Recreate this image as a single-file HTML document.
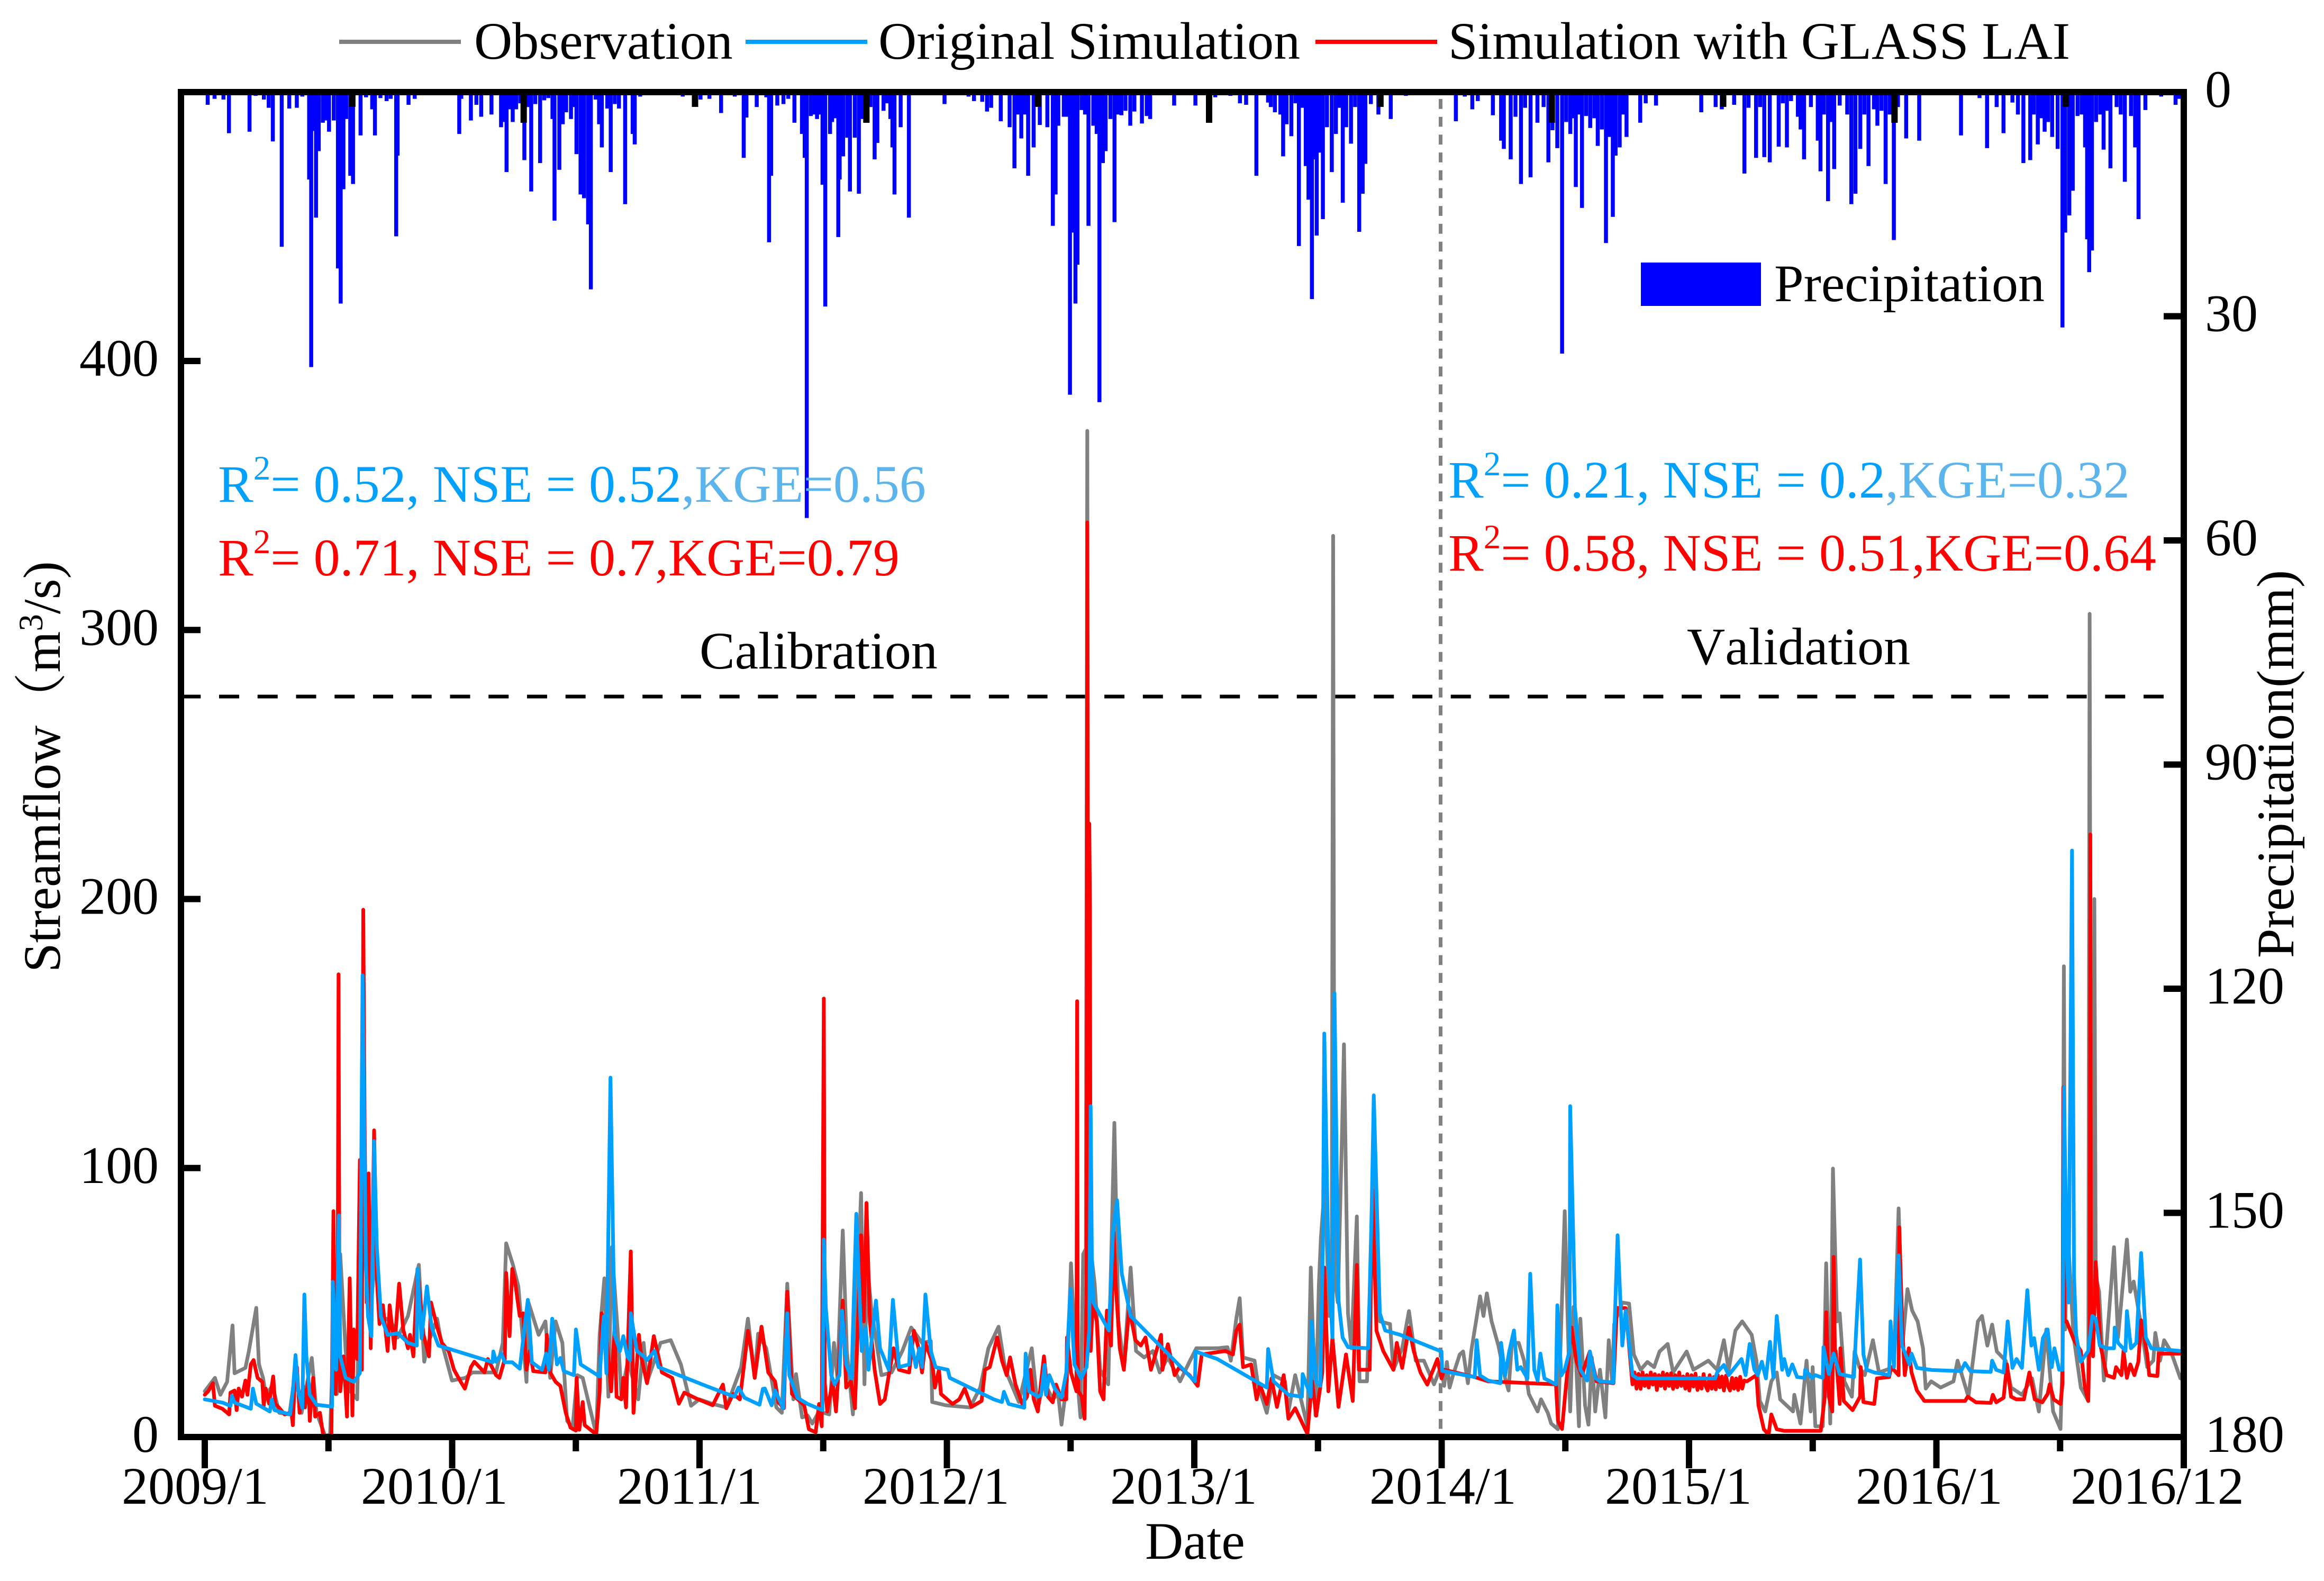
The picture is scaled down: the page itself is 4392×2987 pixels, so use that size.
<!DOCTYPE html>
<html lang="en">
<head>
<meta charset="utf-8">
<title>Streamflow simulation chart</title>
<style>
html,body{margin:0;padding:0;background:#fff}
svg{display:block}
text{font-family:"Liberation Serif","Noto Serif CJK SC",serif;font-size:100px;fill:#000}
</style>
</head>
<body>
<svg id="chart" xmlns="http://www.w3.org/2000/svg" width="4392" height="2987" viewBox="0 0 4392 2987">
<rect x="0" y="0" width="4392" height="2987" fill="#fff"/>
<g id="precip-bars"></g>
<line x1="341.3" y1="1316" x2="4122" y2="1316" stroke="#000" stroke-width="7" stroke-dasharray="38 34.74"/>
<line x1="2722.5" y1="174" x2="2722.5" y2="2712" stroke="#808080" stroke-width="7" stroke-dasharray="18.7 15" stroke-dashoffset="-13"/>
<g id="series"></g>
<g id="ticks"></g>
<rect x="342" y="174" width="3785" height="2541" fill="none" stroke="#000" stroke-width="12"/>
<g id="tick-labels"></g>
<g>
<text x="230" y="2841">2009/1</text>
<text x="682" y="2841">2010/1</text>
<text x="1166" y="2841">2011/1</text>
<text x="1630" y="2841">2012/1</text>
<text x="2098" y="2841">2013/1</text>
<text x="2588" y="2841">2014/1</text>
<text x="3033" y="2841">2015/1</text>
<text x="3507" y="2841">2016/1</text>
<text x="3913" y="2841">2016/12</text>
</g>
<text x="2164" y="2945">Date</text>
<text transform="translate(113 1837) rotate(-90)">Streamflow（m<tspan font-size="65" dy="-33" style="font-size:65px">3</tspan><tspan dy="33">/s)</tspan></text>
<text transform="translate(4334 1810) rotate(-90)">Precipitation(mm)</text>
<g>
<line x1="641" y1="79" x2="871" y2="79" stroke="#808080" stroke-width="8"/>
<text x="896" y="111">Observation</text>
<line x1="1409" y1="79" x2="1639" y2="79" stroke="#00a0ff" stroke-width="8"/>
<text x="1660" y="111">Original Simulation</text>
<line x1="2486" y1="79" x2="2716" y2="79" stroke="#ff0000" stroke-width="8"/>
<text x="2737" y="111">Simulation with GLASS LAI</text>
</g>
<g>
<rect x="3101" y="496" width="227" height="82" fill="#0000ff"/>
<text x="3353" y="569">Precipitation</text>
</g>
<text x="412" y="948" style="fill:#00a0ff">R<tspan dy="-42" style="font-size:65px;fill:#00a0ff">2</tspan><tspan dy="42" style="fill:#00a0ff">= 0.52, NSE = 0.52</tspan><tspan style="fill:#5bb5ec">,KGE=0.56</tspan></text>
<text x="412" y="1087" style="fill:#ff0000">R<tspan dy="-42" style="font-size:65px;fill:#ff0000">2</tspan><tspan dy="42" style="fill:#ff0000">= 0.71, NSE = 0.7,KGE=0.79</tspan></text>
<text x="2737" y="940" style="fill:#00a0ff">R<tspan dy="-42" style="font-size:65px;fill:#00a0ff">2</tspan><tspan dy="42" style="fill:#00a0ff">= 0.21, NSE = 0.2</tspan><tspan style="fill:#5bb5ec">,KGE=0.32</tspan></text>
<text x="2737" y="1078" style="fill:#ff0000">R<tspan dy="-42" style="font-size:65px;fill:#ff0000">2</tspan><tspan dy="42" style="fill:#ff0000">= 0.58, NSE = 0.51,KGE=0.64</tspan></text>
<text x="1322" y="1263">Calibration</text>
<text x="3188" y="1255" style="font-kerning:none">Validation</text>
</svg>
<script>
var flowTickValues = [0, 100, 200, 300, 400];
var precipTickValues = [0, 30, 60, 90, 120, 150, 180];
var halfYearTicks = [0, 0.5, 1, 1.5, 2, 2.5, 3, 3.5, 4, 4.5, 5, 5.5, 6, 6.5, 7, 7.5, 8];
var barDayTicks = [0, 250, 500, 750, 1000, 1250, 1500, 1750, 2000, 2250, 2500, 2750];

var precipDays = [39,49,62,70,100,109,121,128,134,147,
158,169,177,187,190,194,197,201,207,212,
216,223,229,233,237,241,247,251,262,270,
279,283,291,300,306,314,316,332,341,406,
409,423,431,438,453,467,472,475,479,484,
489,495,501,506,511,517,524,530,536,542,
545,552,557,562,569,573,577,583,588,594,
598,605,610,614,622,627,633,639,648,659,
662,670,732,758,771,788,808,821,825,840,
854,858,861,870,879,886,895,906,910,913,
919,924,928,932,936,940,947,950,954,959,
961,966,972,976,983,989,994,1000,1006,1012,
1016,1025,1030,1035,1038,1041,1050,1062,1114,1149,
1157,1169,1176,1182,1196,1209,1216,1221,1226,1231,
1236,1244,1253,1264,1272,1276,1280,1288,1293,1297,
1301,1305,1308,1314,1319,1324,1331,1336,1340,1345,
1349,1356,1362,1367,1372,1378,1385,1391,1402,1409,
1414,1449,1480,1509,1531,1545,1554,1569,1586,1590,
1596,1604,1608,1613,1620,1626,1631,1636,1641,1645,
1650,1654,1657,1662,1666,1672,1679,1685,1690,1695,
1700,1707,1713,1719,1724,1728,1736,1747,1765,1787,
1860,1873,1884,1892,1914,1926,1930,1940,1947,1955,
1961,1969,1979,1988,1995,2001,2008,2015,2021,2027,
2031,2035,2039,2044,2050,2056,2062,2067,2073,2079,
2084,2089,2093,2099,2104,2109,2129,2137,2152,2218,
2239,2248,2266,2281,2287,2298,2304,2310,2318,2331,
2337,2343,2349,2359,2363,2368,2378,2388,2392,2397,
2403,2408,2412,2420,2431,2437,2443,2450,2456,2462,
2470,2475,2481,2487,2493,2499,2505,2517,2536,2597,
2624,2635,2649,2659,2672,2680,2688,2698,2703,2709,
2714,2719,2724,2730,2738,2745,2749,2755,2760,2767,
2773,2778,2781,2784,2788,2794,2800,2805,2810,2815,
2824,2830,2836,2845,2851,2856,2866,2889,2910,2915];
var precipMm = [1.7,.9,1,5.5,5.3,.5,1,2.1,6.6,20.7,
2.2,2.1,.6,11.7,36.8,5.2,16.8,7.9,4.1,3.8,
5.3,3.8,23.6,28.3,13,3.6,11.2,12.3,5.8,.7,
2.3,5.8,.8,1.2,.9,19.3,8.5,1.7,.9,5.6,
.9,3.8,1.7,3.3,3,4.7,4,10.7,2.3,4,
2.3,1.5,9.1,2,13.3,1.6,9.5,1.1,.8,3.6,
17.2,10.4,4.3,2.7,3.6,2,8.3,13.7,14.2,17.7,
26.4,1,4.3,7.4,2.2,10.7,1.6,2.2,15,5.6,
7,.6,.6,1,.9,2.8,.6,8.8,3.4,2,
.7,20.1,11.2,1.8,1.6,.9,4.1,5.6,8.8,57,
3.2,3,3.6,3,12.4,28.7,5.6,4,3.5,19.4,
11.7,8.6,6.1,13.3,6.1,13.6,3.6,3,2,9,
6.8,2.5,1.5,3.6,7.4,13.7,4.7,16.8,1.6,.6,
1.2,1.3,2.6,2.1,3.9,4.7,10.2,3,6.2,3,
11.2,7.4,4.4,4.7,17.9,13.7,4.5,3.3,3.3,40.5,
18.8,28.3,23.1,2.4,3,17.9,4.5,5.6,41.5,9.5,
7.9,3.6,17.4,3,3.1,2.5,4.5,2.6,4.2,3.2,
3.6,1.8,1.8,.7,.5,1.5,1.7,11.2,1.4,2,
2.7,3,8.6,4.3,5.9,1.5,20.6,2.1,9.9,14.4,
27.7,9,19.2,8.1,17,4.7,10.7,5.6,2.1,14.8,
4.7,6.9,2,18.7,13.6,9.6,1.6,3,3.6,.5,
3.9,.6,2.3,1.2,3.1,6.5,7.6,9,3.3,12.3,
2.1,11.4,4.1,2,9.4,5.1,7.5,35,4,5.6,
3.5,12.7,3,15.5,3.2,4.8,3.5,7.2,5,20.2,
6,16.7,8.5,7.4,3,6,4.1,1.5,1.8,2.7,
2,2.3,1.7,10.9,2.1,8.8,2,8.7,9.4,7.3,
1.5,7.4,1.2,3.3,5,9,2,6.5,10.6,3,
14.6,4,10.3,1.8,3,15,13.6,7.6,3,9.9,
2.3,4.5,2.5,12.3,3,19.8,2,6.2,6.5,5.8,
.8,7.5,2,5.5,1.4,3,9.5,9.1,3,7,
3.5,5.3,4,6,7.6,31.5,18.8,16.5,13.2,3.2,
3,7.4,19.7,24.1,21.2,4,3,7.7,2.5,10.2,
2,3,12,3.2,7.4,17,2.4,.6,1.7,.9];

var obsDays = [0,15,23,33,41,44,60,65,76,80,86,90,100,110,125,134,143,158,165,178,185,190,195,200,208,215,225,230,234,238,245,253,260,275,285,300,316,324,330,343,348,365,385,395,430,440,445,455,463,475,478,493,503,510,518,528,535,543,550,558,578,583,590,596,601,610,615,625,640,648,653,673,688,703,718,730,750,770,792,802,812,817,829,844,852,860,869,873,882,890,897,907,922,929,934,942,948,957,969,974,978,984,999,1014,1030,1043,1059,1072,1074,1094,1130,1145,1157,1172,1182,1202,1221,1230,1239,1252,1260,1265,1273,1279,1285,1293,1297,1301,1303,1305,1309,1314,1322,1334,1343,1349,1357,1367,1375,1387,1400,1410,1422,1440,1454,1464,1495,1510,1515,1523,1528,1533,1550,1555,1568,1578,1595,1600,1610,1628,1633,1640,1645,1648,1654,1660,1664,1666,1668,1673,1679,1682,1688,1693,1701,1705,1716,1721,1726,1735,1750,1755,1768,1778,1788,1800,1815,1825,1830,1834,1838,1843,1853,1858,1865,1870,1883,1888,1893,1900,1910,1920,1925,1930,1940,1948,1955,1968,1973,1983,1988,1998,2008,2016,2021,2029,2031,2038,2043,2048,2053,2060,2068,2073,2078,2081,2093,2103,2110,2120,2130,2140,2148,2160,2168,2188,2198,2220,2233,2243,2250,2260,2270,2284,2291,2296,2304,2313,2321,2326,2345,2347,2356,2365,2371,2374,2378,2389,2394,2400,2404,2410,2414,2421,2432,2436,2443,2451,2463,2472,2494,2501,2507,2514,2521,2529,2537,2541,2549,2563,2582,2588,2604,2618,2624,2632,2639,2646,2659,2667,2683,2698,2708,2719,2729,2740,2743,2745,2747,2750,2759,2770,2781,2783,2785,2788,2790,2792,2797,2804,2819,2825,2838,2843,2848,2858,2868,2877,2880,2887,2893,2903,2917];
var obsFlow = [17,22,15.7,20.5,41.5,23.7,25.7,31.8,48,27,22,15.7,19,9,8.4,25,9,29.4,9,0.3,1,38,16,68,32,17,14,70,115,67,46,74,45,43,37,45,64,28,35,44,37,21,22,24,24,35,72,64,56,20.5,50,38,43,22,43,35,6,3.5,23,22,1,38,59,15,70.6,38,15.7,28.6,14,35,20.5,35,36,27,11.6,14,12.3,11,26,44,22,38.4,33,11,9,57,14,23.4,7.3,8,5,9.5,8.4,35,22,76.8,32,8.4,90.7,19.6,65,48,23,24,32,40.7,35,35.7,13,11.8,11,18.4,33,41,25,13,33,10.7,20.7,14,16,4.6,20.7,64.6,32,7.3,68,70,374,68,68,57,25,19.6,116.8,43,26,63,32,29.6,32,24,29.6,20.7,28,33,33,33.4,28.4,44,51.6,29.6,28.4,19.6,9,23,20.7,9.5,23,4,63,8,56.8,74,95,45,60,335,60,50,111,146,46,33,82,20.7,20.7,60.7,98,43,42,25,33,46.8,28.4,28.4,19.6,26,19,27.9,18.4,22.9,30.7,31.8,20,32,52.3,45,53.4,43,34,21.8,17.3,35,35,28.4,16,9.5,14,9,5,2.9,84,9.5,48.4,4,44,11.8,4.6,29.6,9.5,25,7.3,36,20.7,42,50,49.6,30.7,25,27.9,26,31.8,34.6,24,31.8,25,28.4,25,36,25,39.6,43,38,28.4,13.4,9.5,20.7,24,14,9.5,15.7,5,28.4,9.5,26,4,4,64.6,5,99.8,43,46,20.7,15,31.8,26,23,36,24,26,85,35,55,47,43,33,18,20.7,18.4,20.7,28.4,15,43,45,34,41.8,31.8,28.4,18.4,15.7,21.8,9.5,40,9.5,3,30,175,40,80,38,18.4,13.4,306,60,40,200,60,54,21,70.6,37,73.4,54,57.8,43,26,28.4,38.7,28.4,36,31.8,21.8];

var glassDays = [0,5,12,15,26,36,38,44,47,50,55,60,63,68,72,78,85,87,90,95,101,104,110,118,128,130,133,136,140,145,148,153,155,160,163,170,175,187,190,193,196,197.5,199,200,205,210,214,218,220,225,229,232,234,236,239,242,245,250,254,258,263,270,273,280,287,293,300,303,308,314,323,331,334,343,350,360,368,378,384,393,398,413,418,430,435,443,445,450,454,458,465,470,475,480,485,503,505,510,518,525,533,540,548,549,553,558,561,578,583,586,593,600,605,608,615,618,622,629,633,641,645,653,663,668,675,690,700,708,725,750,765,770,780,790,797,802,807,812,822,832,842,847,855,860,867,885,892,902,907,911,914,915.5,919,927,932,942,947,954,960,969,973,977,982,989,997,1004,1010,1017,1025,1040,1047,1054,1059,1064,1074,1078,1084,1087,1104,1114,1122,1132,1147,1152,1159,1170,1177,1184,1189,1197,1207,1214,1219,1224,1230,1239,1245,1252,1257,1265,1272,1273,1279,1287,1288,1289,1290,1295,1299,1302,1303,1304,1306,1307,1308,1311,1317,1322,1327,1332,1338,1342,1345,1351,1357,1365,1374,1382,1389,1397,1412,1414,1422,1432,1439,1454,1466,1472,1507,1518,1523,1528,1533,1545,1553,1558,1568,1575,1583,1593,1600,1610,1628,1635,1641,1650,1653,1659,1665,1674,1685,1695,1701,1704,1720,1724,1730,1740,1755,1760,1768,1778,1785,1795,1805,1820,1826,1830,1875,1895,1995,1998,2004,2008,2018,2025,2033,2045,2055,2080,2085,2098,2108,2111,2114,2117,2120,2123,2126,2129,2132,2135,2138,2141,2144,2147,2150,2153,2156,2159,2162,2165,2168,2171,2174,2177,2180,2183,2186,2189,2192,2195,2198,2201,2204,2207,2210,2213,2216,2219,2222,2225,2228,2231,2234,2237,2240,2243,2246,2249,2252,2255,2258,2261,2264,2267,2270,2273,2277,2291,2294,2302,2309,2313,2321,2332,2386,2392,2394,2398,2403,2405,2407,2408,2414,2415,2420,2433,2444,2445,2449,2465,2469,2487,2490,2501,2502,2506,2510,2516,2520,2528,2539,2599,2603,2615,2637,2640,2645,2656,2661,2667,2675,2686,2694,2702,2713,2721,2724,2730,2740,2743,2744,2746,2749,2760,2770,2776,2781,2783,2784,2785,2788,2792,2799,2808,2819,2822,2830,2833,2838,2843,2849,2855,2859,2868,2871,2883,2885,2917];
var glassFlow = [15.7,17,20,11.6,10.5,8.4,16.5,17.3,10,18,15,21,15.7,27,28.6,22,20.5,11.6,18,12.4,22.5,12.4,10.8,8.4,9.2,4.4,22,26,9,19,11,22,6,22,7.6,9,0.3,0.3,84,16,30,172,30,17,30,7.6,59,8,40,29,103,25,196,116,50,98,33,114,59,42,49,32,49,33,57,40,33,38,30,62,38,30,50,41,35,32,25,20.5,18,26,28,24,29,23,22,29,61,37.5,62.5,58,45,46,25,32,24.5,24,38,24,20.5,19,9,3.5,2.4,22,2.7,13,4.4,1,17,46,38,17,41,15,14,22,11,69,9,38,29,20,37.5,32,24,22,12.4,16.5,14.4,11.8,19.5,10.7,16,14,28.4,39.5,32,22,41,24,20.7,12.9,10.7,54,16,11.8,2.9,1.8,12.3,4,163,20,9.5,20.7,9.5,50.7,18.4,20.7,10.7,75,43,87,43,25,12.3,14,23,33,25,24,39.5,33,24,35,28,18.4,25,16,12.3,14,18,11.2,13.4,25,26,37,28.4,23,29.6,19.5,12.3,15,25,14,9.5,30,15,12.9,19.5,14,14,37,24,17,162,30,17,15,6.8,60,340,120,228,197,32,50,43,17,14,47,34,76,57,33,25,48,36,34,37,25,38,25,34.5,23,26,23,19,30.7,32,30.7,39.5,41.8,26,27,14,19.5,12.3,21.8,11.2,23,6.8,10.7,1.2,20.7,7.9,24,63,17,37,11.2,30.7,13.4,64,25,25,92,39.5,32,25,35,25.7,40.7,32,24,19.5,29,21.8,25,22.3,20.7,19.6,6,3,14,40.7,28.4,22.9,31.8,20.7,20,48,47.9,19.6,24,18,23.5,17.9,24,19,23,18.4,24,19.5,23.4,17.5,23,19,24,18,23.5,19,23.7,17.9,23,18.5,24,19,22.5,18,23.4,17.3,23,18.8,23.6,17.5,22,18,23.4,19,17.3,23,18,22.3,17.7,23,18.5,22.5,17.3,22.8,19,17.3,22,18,21.8,17.5,22.4,18,21,20.7,23,11.8,2.9,.9,8.4,2.9,2.3,2.3,15,46.4,15,9.5,67,30,32,12.3,33,13.4,10,15,26,13,12.3,21.8,22.3,26,23,78,43,23,33,24,17.3,13.4,13.4,15,12.9,12.7,15.7,12.9,14.6,27,15,14,14,24,14,12.9,16,19.6,14,12.3,20,130,43,43,36,32,18.4,13.4,40,224,40,30,65,34,23,22,26,23,32,22,27,23,28,43.4,30.7,23,22.7,31,31];

var origDays = [0,26,38,40,44,68,71,76,96,99,103,126,130,134,138,144,147,150,155,165,188,189,194,198,200,208,220,229,233,238,241,246,250,254,260,270,285,300,313,314,320,328,335,345,425,426,430,438,443,454,465,477,483,498,504,508,513,520,525,530,545,548,555,583,589,593,599,605,613,618,624,628,629,638,648,653,664,670,740,782,788,797,819,824,827,837,842,854,860,863,875,890,912,914,917,925,930,937,941,947,955,962,970,976,980,991,997,1010,1016,1025,1040,1042,1050,1055,1059,1064,1072,1079,1097,1100,1165,1177,1180,1187,1210,1212,1217,1230,1235,1240,1242,1247,1255,1265,1272,1278,1284,1294,1302,1306,1308,1310,1312,1335,1341,1347,1354,1367,1414,1462,1463,1495,1568,1570,1578,1600,1620,1621,1633,1634,1641,1647,1651,1653,1659,1665,1668,1674,1680,1688,1718,1723,1726,1735,1743,1765,1826,1827,1875,1878,1883,1895,1913,1914,1920,1926,1933,1938,1943,1953,1957,1963,1968,1972,1978,1995,1997,2003,2008,2015,2016,2023,2031,2041,2045,2053,2060,2080,2081,2086,2093,2098,2108,2115,2230,2233,2243,2250,2269,2275,2281,2288,2293,2299,2305,2311,2316,2321,2329,2332,2338,2344,2351,2362,2363,2373,2378,2389,2390,2398,2405,2414,2435,2438,2444,2449,2454,2465,2487,2489,2494,2501,2506,2517,2520,2528,2550,2593,2599,2607,2637,2639,2645,2656,2662,2669,2675,2683,2691,2697,2701,2708,2714,2721,2727,2731,2738,2743,2744,2745,2749,2752,2757,2760,2763,2770,2781,2787,2792,2798,2808,2819,2820,2825,2836,2838,2844,2852,2859,2866,2874,2917];
var origFlow = [14,12.8,11.6,15.3,12.8,10.5,18,12.4,9.5,14,10,8.4,17,30.5,17,10.8,53,30,15.7,12,11.3,57.7,25,82.4,30,22,20.5,23.7,171.6,62.5,44.8,37.5,110,70.6,44.8,38,38.6,35,34,62.5,36.7,56,40.7,34,27.8,31.8,28,31,27.8,27.8,25.4,51,27.8,25,31,25,44,27,29.4,24.5,23,40,27,22.5,44.8,23.7,133.6,38,32,37.5,30,28.6,46,32,30,28.6,32,26,19,15,18.4,14.6,12,17.9,18,11.8,17.3,10.7,46,23,14.6,12.3,10,73.4,48,23,19.6,23,47,27,21.8,83,32,40.7,25,50.7,33,25,51,26,27,37,26,33,26,53,32,26,25,22,14,13,16.8,12.3,10.9,31,17,15,15.7,26.8,15.7,23,18,14.6,24,55,27,21.8,26,40,123,60,50,39.6,76,88,60.7,45,33,20.7,31.8,29,18.4,32.7,20.7,15.7,15,23.4,15,43,20.7,19,73,150,67,37,165,50.7,37,33.4,33,85,127,46,39.6,38,31.8,24.6,22.3,36,22.9,21,20,35,22.9,31.8,39.6,25,26,21.8,60.7,25,21,31,21.8,19.6,49,22.9,25,32,123,48.4,25,21,31.8,22,20.7,20.3,37,75,34,47,23,21.8,21.8,24,26.8,23,29,23,34.6,25,23,28,21.8,35.4,22.3,45,25,29,23,27,22.3,22,25,22,23,22,33.4,23.4,31,23.4,22.3,38.4,66,30.7,25,24,23,43,26,67.5,34,27,31,25.7,24.9,24.5,27.5,24.5,24.2,28.4,25,24,43,25.7,29,25.7,54.6,34,36.8,25,36.8,40,26,33,25,25,65,130,70,50,218,60,38,28,32,45,44,34,33,33,40.7,35,32,46.8,33,35,68.4,37,33,32];

var SVG_NS = 'http://www.w3.org/2000/svg';
var flowPxPerUnit = 5.0825, flowZeroY = 2715;
var mmPxPerUnit = 2541 / 180, mmZeroY = 174;
var seriesLeft = 387, seriesPxPerDay = 3740 / 2922;
var barLeft = 342, barPxPerDay = 3785 / 2922;

function xOfDay(day) { return seriesLeft + day * seriesPxPerDay; }
function yOfFlow(flow) { return flowZeroY - flow * flowPxPerUnit; }
function xOfBarDay(day) { return barLeft + day * barPxPerDay; }
function yOfMm(mm) { return mmZeroY + mm * mmPxPerUnit; }

var barsGroup = document.getElementById('precip-bars');
precipDays.forEach(function (day, i) {
  var bar = document.createElementNS(SVG_NS, 'rect');
  
  
  bar.setAttribute('x', xOfBarDay(day) - 3.75);
  bar.setAttribute('y', mmZeroY);
  bar.setAttribute('width', 7.5);
  bar.setAttribute('height', yOfMm(precipMm[i]) - mmZeroY);
  bar.setAttribute('fill', '#0000ff');
  barsGroup.appendChild(bar);
});

function pathFor(days, flows) {
  var d = '';
  for (var i = 0; i < days.length && i < flows.length; i++) {
    d += (i ? 'L' : 'M') + xOfDay(days[i]).toFixed(1) + ' ' + yOfFlow(flows[i]).toFixed(1);
  }
  return d;
}
var seriesGroup = document.getElementById('series');

var obsLine = document.createElementNS(SVG_NS, 'path');


obsLine.setAttribute('d', pathFor(obsDays, obsFlow));
obsLine.setAttribute('stroke', '#808080');
seriesGroup.appendChild(obsLine);

var glassLine = document.createElementNS(SVG_NS, 'path');


glassLine.setAttribute('d', pathFor(glassDays, glassFlow));
glassLine.setAttribute('stroke', '#ff0000');
seriesGroup.appendChild(glassLine);

var origLine = document.createElementNS(SVG_NS, 'path');


origLine.setAttribute('d', pathFor(origDays, origFlow));
origLine.setAttribute('stroke', '#00a0ff');
seriesGroup.appendChild(origLine);

[obsLine, glassLine, origLine].forEach(function (line) {
  line.setAttribute('fill', 'none');
  line.setAttribute('stroke-width', 7);
  line.setAttribute('stroke-linejoin', 'round');
  line.setAttribute('stroke-linecap', 'round');
});

var ticksGroup = document.getElementById('ticks');
var labelsGroup = document.getElementById('tick-labels');
function addTick(name, x1, y1, x2, y2) {
  var tick = document.createElementNS(SVG_NS, 'line');
  
  
  tick.setAttribute('x1', x1);
  tick.setAttribute('y1', y1);
  tick.setAttribute('x2', x2);
  tick.setAttribute('y2', y2);
  tick.setAttribute('stroke', '#000');
  tick.setAttribute('stroke-width', 12);
  ticksGroup.appendChild(tick);
}
flowTickValues.forEach(function (value) {
  addTick('left-y-tick', 348, yOfFlow(value), 379, yOfFlow(value));
  var label = document.createElementNS(SVG_NS, 'text');
  
  
  label.setAttribute('x', 300);
  label.setAttribute('y', yOfFlow(value) + 28);
  label.setAttribute('text-anchor', 'end');
  label.textContent = String(value);
  labelsGroup.appendChild(label);
});
precipTickValues.forEach(function (value) {
  addTick('right-y-tick', 4089, yOfMm(value), 4121, yOfMm(value));
  var label = document.createElementNS(SVG_NS, 'text');
  
  
  label.setAttribute('x', 4167);
  label.setAttribute('y', yOfMm(value) + 28);
  label.textContent = String(value);
  labelsGroup.appendChild(label);
});
halfYearTicks.forEach(function (year) {
  var x = xOfDay(year * 2922 / 8);
  addTick('x-tick', x, 2721, x, year % 1 === 0 ? 2774 : 2742);
});
barDayTicks.forEach(function (day) {
  var x = xOfBarDay(day);
  addTick('top-tick', x, 180, x, day % 500 === 0 ? 232 : 202);
});
</script>
</body>
</html>
